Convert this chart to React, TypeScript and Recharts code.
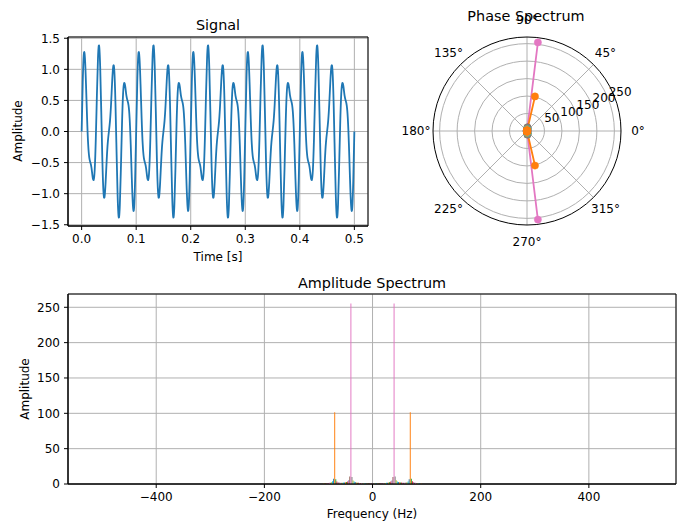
import React from "react"
import {
  LineChart,
  Line,
  BarChart,
  Bar,
  Cell,
  XAxis,
  YAxis,
  CartesianGrid,
  ReferenceArea,
  RadarChart,
  Radar,
  PolarGrid,
  PolarAngleAxis,
  PolarRadiusAxis,
} from "recharts"

const FONT = "DejaVu Sans, sans-serif"
const GRID = "#b0b0b0"
const PALETTE = ["#1f77b4", "#ff7f0e", "#2ca02c", "#d62728", "#9467bd", "#8c564b", "#e377c2", "#7f7f7f", "#bcbd22", "#17becf"]

// signal, one reading every 2 ms
const timeS = [
  0, 0.002, 0.004, 0.006, 0.008, 0.01, 0.012, 0.014, 0.016, 0.018,
  0.02, 0.022, 0.024, 0.026, 0.028, 0.03, 0.032, 0.034, 0.036, 0.038,
  0.04, 0.042, 0.044, 0.046, 0.048, 0.05, 0.052, 0.054, 0.056, 0.058,
  0.06, 0.062, 0.064, 0.066, 0.068, 0.07, 0.072, 0.074, 0.076, 0.078,
  0.08, 0.082, 0.084, 0.086, 0.088, 0.09, 0.092, 0.094, 0.096, 0.098,
  0.1, 0.102, 0.104, 0.106, 0.108, 0.11, 0.112, 0.114, 0.116, 0.118,
  0.12, 0.122, 0.124, 0.126, 0.128, 0.13, 0.132, 0.134, 0.136, 0.138,
  0.14, 0.142, 0.144, 0.146, 0.148, 0.15, 0.152, 0.154, 0.156, 0.158,
  0.16, 0.162, 0.164, 0.166, 0.168, 0.17, 0.172, 0.174, 0.176, 0.178,
  0.18, 0.182, 0.184, 0.186, 0.188, 0.19, 0.192, 0.194, 0.196, 0.198,
  0.2, 0.202, 0.204, 0.206, 0.208, 0.21, 0.212, 0.214, 0.216, 0.218,
  0.22, 0.222, 0.224, 0.226, 0.228, 0.23, 0.232, 0.234, 0.236, 0.238,
  0.24, 0.242, 0.244, 0.246, 0.248, 0.25, 0.252, 0.254, 0.256, 0.258,
  0.26, 0.262, 0.264, 0.266, 0.268, 0.27, 0.272, 0.274, 0.276, 0.278,
  0.28, 0.282, 0.284, 0.286, 0.288, 0.29, 0.292, 0.294, 0.296, 0.298,
  0.3, 0.302, 0.304, 0.306, 0.308, 0.31, 0.312, 0.314, 0.316, 0.318,
  0.32, 0.322, 0.324, 0.326, 0.328, 0.33, 0.332, 0.334, 0.336, 0.338,
  0.34, 0.342, 0.344, 0.346, 0.348, 0.35, 0.352, 0.354, 0.356, 0.358,
  0.36, 0.362, 0.364, 0.366, 0.368, 0.37, 0.372, 0.374, 0.376, 0.378,
  0.38, 0.382, 0.384, 0.386, 0.388, 0.39, 0.392, 0.394, 0.396, 0.398,
  0.4, 0.402, 0.404, 0.406, 0.408, 0.41, 0.412, 0.414, 0.416, 0.418,
  0.42, 0.422, 0.424, 0.426, 0.428, 0.43, 0.432, 0.434, 0.436, 0.438,
  0.44, 0.442, 0.444, 0.446, 0.448, 0.45, 0.452, 0.454, 0.456, 0.458,
  0.46, 0.462, 0.464, 0.466, 0.468, 0.47, 0.472, 0.474, 0.476, 0.478,
  0.48, 0.482, 0.484, 0.486, 0.488, 0.49, 0.492, 0.494, 0.496, 0.498,
  0.5,
]

const signalAmp = [
  0.0, 0.79, 1.24, 1.19, 0.76, 0.21, -0.21, -0.42, -0.5, -0.58,
  -0.72, -0.78, -0.61, -0.11, 0.59, 1.19, 1.38, 1.04, 0.32, -0.46,
  -0.97, -1.05, -0.81, -0.45, -0.17, 0.0, 0.17, 0.45, 0.81, 1.05,
  0.97, 0.46, -0.32, -1.04, -1.38, -1.19, -0.59, 0.11, 0.61, 0.78,
  0.72, 0.58, 0.5, 0.42, 0.21, -0.21, -0.76, -1.19, -1.24, -0.79,
  0.0, 0.79, 1.24, 1.19, 0.76, 0.21, -0.21, -0.42, -0.5, -0.58,
  -0.72, -0.78, -0.61, -0.11, 0.59, 1.19, 1.38, 1.04, 0.32, -0.46,
  -0.97, -1.05, -0.81, -0.45, -0.17, 0.0, 0.17, 0.45, 0.81, 1.05,
  0.97, 0.46, -0.32, -1.04, -1.38, -1.19, -0.59, 0.11, 0.61, 0.78,
  0.72, 0.58, 0.5, 0.42, 0.21, -0.21, -0.76, -1.19, -1.24, -0.79,
  0.0, 0.79, 1.24, 1.19, 0.76, 0.21, -0.21, -0.42, -0.5, -0.58,
  -0.72, -0.78, -0.61, -0.11, 0.59, 1.19, 1.38, 1.04, 0.32, -0.46,
  -0.97, -1.05, -0.81, -0.45, -0.17, 0.0, 0.17, 0.45, 0.81, 1.05,
  0.97, 0.46, -0.32, -1.04, -1.38, -1.19, -0.59, 0.11, 0.61, 0.78,
  0.72, 0.58, 0.5, 0.42, 0.21, -0.21, -0.76, -1.19, -1.24, -0.79,
  0.0, 0.79, 1.24, 1.19, 0.76, 0.21, -0.21, -0.42, -0.5, -0.58,
  -0.72, -0.78, -0.61, -0.11, 0.59, 1.19, 1.38, 1.04, 0.32, -0.46,
  -0.97, -1.05, -0.81, -0.45, -0.17, 0.0, 0.17, 0.45, 0.81, 1.05,
  0.97, 0.46, -0.32, -1.04, -1.38, -1.19, -0.59, 0.11, 0.61, 0.78,
  0.72, 0.58, 0.5, 0.42, 0.21, -0.21, -0.76, -1.19, -1.24, -0.79,
  0.0, 0.79, 1.24, 1.19, 0.76, 0.21, -0.21, -0.42, -0.5, -0.58,
  -0.72, -0.78, -0.61, -0.11, 0.59, 1.19, 1.38, 1.04, 0.32, -0.46,
  -0.97, -1.05, -0.81, -0.45, -0.17, 0.0, 0.17, 0.45, 0.81, 1.05,
  0.97, 0.46, -0.32, -1.04, -1.38, -1.19, -0.59, 0.11, 0.61, 0.78,
  0.72, 0.58, 0.5, 0.42, 0.21, -0.21, -0.76, -1.19, -1.24, -0.79,
  0.0,
]

const timeTicks = [0, 0.1, 0.2, 0.3, 0.4, 0.5]
const signalTicks = [-1.5, -1, -0.5, 0, 0.5, 1, 1.5]

// spectrum bins around the two tones; first listed bin is index 211 of the shifted fft
const FIRST_BIN = 211
const freqHz = [
  -89.82, -87.83, -85.83, -83.84, -81.84, -79.84, -77.85, -75.85, -73.86, -71.86,
  -69.86, -67.87, -65.87, -63.88, -61.88, -59.88, -57.89, -55.89, -53.89, -51.9,
  -49.9, -47.91, -45.91, -43.91, -41.92, -39.92, -37.93, -35.93, -33.93, -31.94,
  -29.94, -27.95, -25.95, -23.95, -21.96, -19.96, -17.96, -15.97, -13.97, -11.98,
  -9.98, -7.98, -5.99, -3.99, -2.0,
  0,
  2.0, 3.99, 5.99, 7.98, 9.98, 11.98, 13.97, 15.97, 17.96, 19.96,
  21.96, 23.95, 25.95, 27.95, 29.94, 31.94, 33.93, 35.93, 37.93, 39.92,
  41.92, 43.91, 45.91, 47.91, 49.9, 51.9, 53.89, 55.89, 57.89, 59.88,
  61.88, 63.88, 65.87, 67.87, 69.86, 71.86, 73.86, 75.85, 77.85, 79.84,
  81.84, 83.84, 85.83, 87.83, 89.82,
]

const ampSpectrum = [
  0.85, 0.9, 1.0, 1.15, 1.3, 1.6, 1.9, 2.5, 3.8, 7.6,
  101.5, 6.6, 3.6, 2.6, 2.2, 1.9, 1.8, 1.9, 2.0, 2.2,
  2.5, 2.9, 3.7, 5.4, 10.6, 255.5, 9.9, 5.1, 3.5, 2.7,
  2.2, 1.85, 1.6, 1.45, 1.3, 1.15, 1.05, 1.0, 0.9, 0.85,
  0.8, 0.75, 0.7, 0.65, 0.6,
  0.4,
  0.6, 0.65, 0.7, 0.75, 0.8, 0.85, 0.9, 1.0, 1.05, 1.15,
  1.3, 1.45, 1.6, 1.85, 2.2, 2.7, 3.5, 5.1, 9.9, 255.5,
  10.6, 5.4, 3.7, 2.9, 2.5, 2.2, 2.0, 1.9, 1.8, 1.9,
  2.2, 2.6, 3.6, 6.6, 101.5, 7.6, 3.8, 2.5, 1.9, 1.6,
  1.3, 1.15, 1.0, 0.9, 0.85,
]

const phaseDeg = [
  73.5, 73.8, 74.2, 74.5, 74.9, 75.2, 75.6, 75.9, 76.3, 76.6,
  77.0, 77.3, 77.7, 78.0, 78.4, 78.7, 79.1, 79.4, 80.5, 80.9,
  81.2, 81.6, 81.9, 82.3, 82.6, 83.0, 83.3, 83.7, 84.0, 84.4,
  84.7, 85.1, 85.4, 85.8, 86.1, 86.5, 86.8, 87.2, 87.5, 87.9,
  88.2, 88.6, 88.9, 89.3, 89.6,
  0,
  270.4, 270.7, 271.1, 271.4, 271.8, 272.1, 272.5, 272.8, 273.2, 273.5,
  273.9, 274.2, 274.6, 274.9, 275.3, 275.6, 276.0, 276.3, 276.7, 277.0,
  277.4, 277.7, 278.1, 278.4, 278.8, 279.1, 279.5, 280.6, 280.9, 281.3,
  281.6, 282.0, 282.3, 282.7, 283.0, 283.4, 283.7, 284.1, 284.4, 284.8,
  285.1, 285.5, 285.8, 286.2, 286.5,
]

const freqTicks = [-400, -200, 0, 200, 400]
const ampTicks = [0, 50, 100, 150, 200, 250]
const phaseTicks = [0, 45, 90, 135, 180, 225, 270, 315]
const radiusTicks = [50, 100, 150, 200, 250]

const signalRows = timeS.map((t, i) => ({ t, v: signalAmp[i] }))
const spectrumRows = freqHz.map((f, j) => ({ f, a: ampSpectrum[j] }))
const binColor = (j: number) => (FIRST_BIN + j) % 10

// every bin is a spoke from the origin out to (phase, amplitude)
const polarRows = freqHz.flatMap((_, j) => {
  const key = `s${binColor(j)}`
  return [
    { angle: phaseDeg[j], [key]: 0 },
    { angle: phaseDeg[j], [key]: ampSpectrum[j] },
  ]
})
const radarOrder = [0, 2, 3, 4, 5, 7, 8, 9, 6, 1]

const fmt = (v: number, d: number) => v.toFixed(d).replace("-", "\u2212")
const tickStyle = { fill: "#000", fontSize: 12, fontFamily: FONT }

function Caption({ x, y, size = 12, rotate = false, children }: any) {
  return (
    <div
      style={{
        position: "absolute",
        left: x,
        top: y,
        transform: `translate(-50%, -50%)${rotate ? " rotate(-90deg)" : ""}`,
        fontSize: size,
        lineHeight: 1,
        whiteSpace: "nowrap",
        color: "#000",
      }}
    >
      {children}
    </div>
  )
}

const radarDot = (color: string) => (props: any) => {
  if (!Number.isFinite(props.cx) || !Number.isFinite(props.cy)) return <g key={`n${props.index}`} />
  return <circle key={`d${props.index}`} cx={props.cx} cy={props.cy} r={3.6} fill={color} stroke={color} strokeWidth={0.5} />
}

const angleTick = (props: any) => {
  const v = props.payload?.value
  if (v === 360) return <g />
  return (
    <text x={props.x} y={props.y} textAnchor="middle" dominantBaseline="central" fontSize={12} fontFamily={FONT} fill="#000">
      {`${v}\u00b0`}
    </text>
  )
}

const radiusTick = (props: any) => (
  <text x={props.x + 1} y={props.y - 2} textAnchor="start" fontSize={12} fontFamily={FONT} fill="#000">
    {props.payload?.value}
  </text>
)

export default function App() {
  return (
    <div style={{ position: "absolute", left: 0, top: 0, width: 680, height: 522, background: "#fff", fontFamily: FONT, overflow: "hidden" }}>
      {/* Signal */}
      <div style={{ position: "absolute", left: 0, top: 0 }}>
        <LineChart width={380} height={270} data={signalRows} margin={{ top: 37, right: 12, bottom: 0, left: 0 }}>
          <CartesianGrid stroke={GRID} strokeWidth={1} />
          <XAxis
            dataKey="t"
            type="number"
            domain={[-0.025, 0.525]}
            allowDataOverflow
            ticks={timeTicks}
            tickFormatter={(v) => fmt(v, 1)}
            height={44}
            tick={tickStyle}
            tickSize={4}
            tickMargin={4}
            axisLine={{ stroke: "#000" }}
            tickLine={{ stroke: "#000" }}
          />
          <YAxis
            type="number"
            domain={[-1.52, 1.52]}
            allowDataOverflow
            ticks={signalTicks}
            tickFormatter={(v) => fmt(v, 1)}
            width={68}
            tick={tickStyle}
            tickSize={4}
            tickMargin={4}
            axisLine={{ stroke: "#000" }}
            tickLine={{ stroke: "#000" }}
          />
          <ReferenceArea x1={-0.025} x2={0.525} y1={-1.52} y2={1.52} fill="none" stroke="#000" strokeWidth={1} />
          <Line dataKey="v" type="natural" stroke="#1f77b4" strokeWidth={1.8} dot={false} isAnimationActive={false} />
        </LineChart>
      </div>

      {/* Phase spectrum */}
      <div style={{ position: "absolute", left: 390, top: 0 }}>
        <RadarChart
          width={290}
          height={262}
          cx={137}
          cy={131}
          outerRadius={94}
          startAngle={0}
          endAngle={360}
          data={polarRows}
          margin={{ top: 0, right: 0, bottom: 0, left: 0 }}
        >
          <PolarGrid gridType="circle" stroke={GRID} strokeWidth={1} />
          <PolarAngleAxis
            dataKey="angle"
            type="number"
            domain={[0, 360]}
            ticks={phaseTicks as any}
            tickCount={9}
            axisLineType="circle"
            axisLine={{ stroke: "#000" }}
            tickLine={false}
            tickSize={17}
            tick={angleTick}
          />
          <PolarRadiusAxis
            type="number"
            angle={22.5}
            domain={[0, 268.8]}
            allowDataOverflow
            ticks={radiusTicks as any}
            axisLine={false}
            tick={radiusTick}
          />
          {radarOrder.map((c) => (
            <Radar
              key={c}
              dataKey={`s${c}`}
              stroke={PALETTE[c]}
              strokeWidth={1.8}
              fill="none"
              fillOpacity={0}
              dot={radarDot(PALETTE[c])}
              isAnimationActive={false}
            />
          ))}
        </RadarChart>
      </div>

      {/* Amplitude spectrum */}
      <div style={{ position: "absolute", left: 0, top: 280 }}>
        <BarChart width={680} height={242} data={spectrumRows} margin={{ top: 14, right: 4, bottom: 0, left: 0 }}>
          <CartesianGrid stroke={GRID} strokeWidth={1} />
          <XAxis
            dataKey="f"
            type="number"
            domain={[-563.1, 561.1]}
            allowDataOverflow
            ticks={freqTicks}
            tickFormatter={(v) => fmt(v, 0)}
            height={38}
            tick={tickStyle}
            tickSize={4}
            tickMargin={4}
            axisLine={{ stroke: "#000" }}
            tickLine={{ stroke: "#000" }}
          />
          <YAxis
            type="number"
            domain={[0, 268.8]}
            allowDataOverflow
            ticks={ampTicks}
            tickFormatter={(v) => fmt(v, 0)}
            width={68}
            tick={tickStyle}
            tickSize={4}
            tickMargin={4}
            axisLine={{ stroke: "#000" }}
            tickLine={{ stroke: "#000" }}
          />
          <ReferenceArea x1={-563.1} x2={561.1} y1={0} y2={268.8} fill="none" stroke="#000" strokeWidth={1} />
          <Bar dataKey="a" barSize={1.6} isAnimationActive={false}>
            {spectrumRows.map((_, j) => (
              <Cell key={j} fill={PALETTE[binColor(j)]} />
            ))}
          </Bar>
        </BarChart>
      </div>

      <Caption x={218} y={25} size={14.4}>Signal</Caption>
      <Caption x={218} y={257}>Time [s]</Caption>
      <Caption x={18} y={131} rotate>Amplitude</Caption>
      <Caption x={526} y={16} size={14.4}>Phase Spectrum</Caption>
      <Caption x={372} y={283} size={14.4}>Amplitude Spectrum</Caption>
      <Caption x={372} y={514}>Frequency (Hz)</Caption>
      <Caption x={25} y={389} rotate>Amplitude</Caption>
    </div>
  )
}
